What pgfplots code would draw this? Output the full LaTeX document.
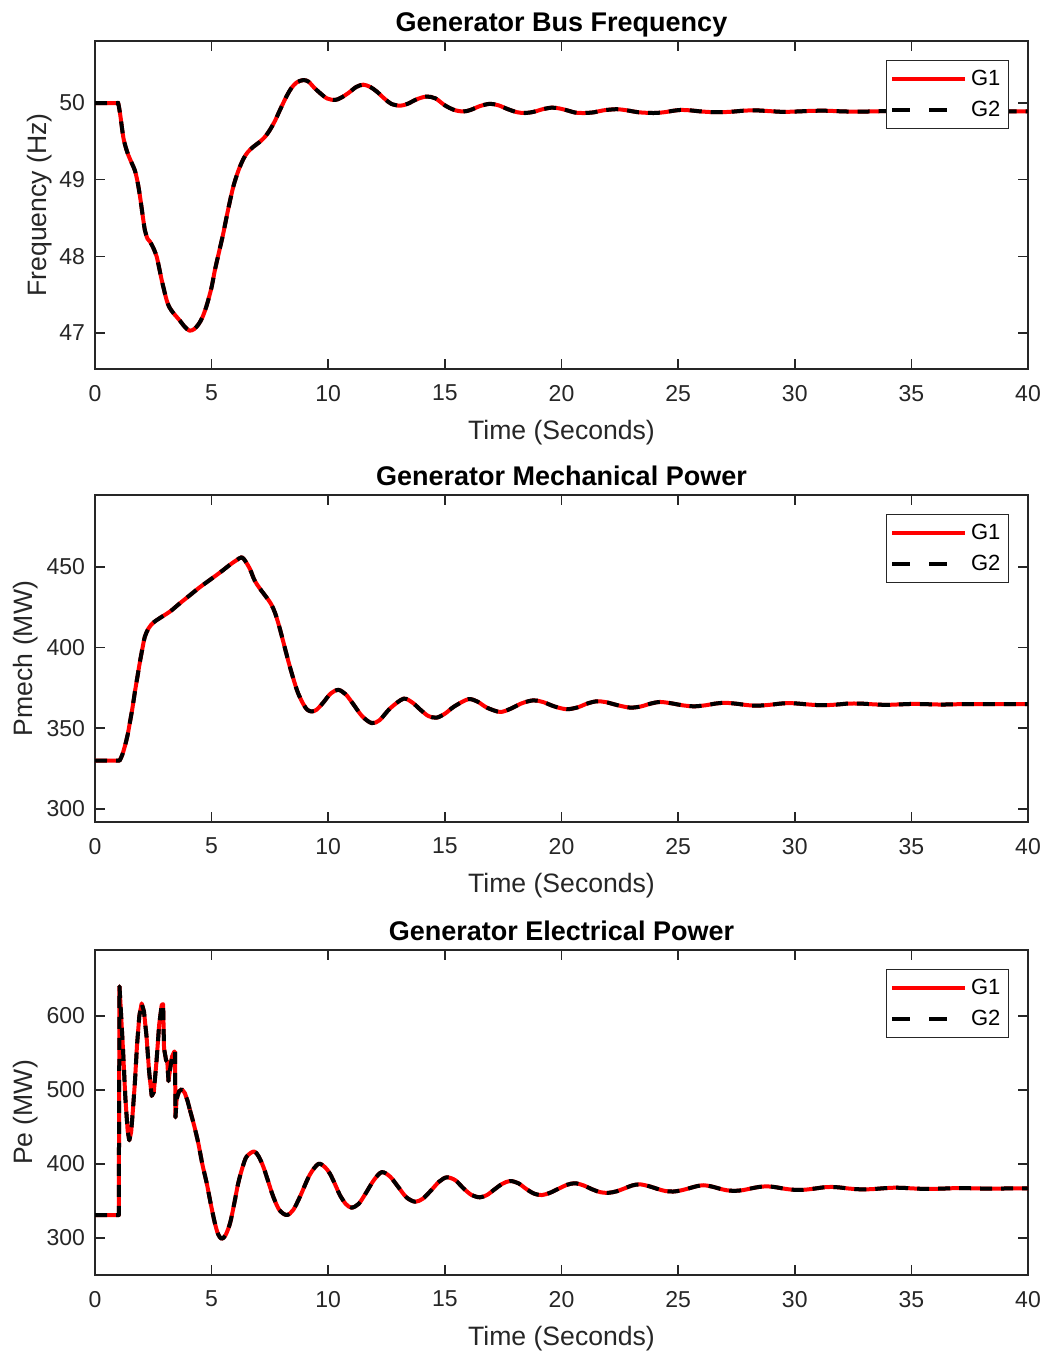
\documentclass[border=0pt]{standalone}
\usepackage{fontspec}
\setmainfont{Liberation Sans}
\usepackage{pgfplots}
\usepackage{pgfplotstable}
\pgfplotsset{compat=1.18}
\definecolor{axgray}{RGB}{38,38,38}

\pgfplotstableread{
t f
0 50
0.5 50
0.95 50
1.0 49.99
1.08 49.85
1.21 49.56
1.32 49.42
1.43 49.32
1.6 49.2
1.71 49.12
1.82 48.98
1.93 48.78
2.05 48.52
2.14 48.34
2.25 48.23
2.36 48.19
2.5 48.11
2.64 48.0
2.75 47.85
2.86 47.69
3.07 47.43
3.2 47.33
3.36 47.26
3.5 47.21
3.64 47.16
3.85 47.08
4.05 47.03
4.25 47.05
4.43 47.11
4.6 47.2
4.79 47.36
5.0 47.6
5.14 47.82
5.32 48.06
5.5 48.30
5.7 48.6
5.93 48.91
6.15 49.12
6.36 49.27
6.55 49.36
6.79 49.43
7.05 49.49
7.29 49.56
7.5 49.65
7.72 49.77
7.9 49.89
8.07 50.0
8.25 50.11
8.43 50.2
8.65 50.27
8.93 50.30
9.15 50.28
9.4 50.2
9.65 50.13
9.95 50.06
10.29 50.04
10.55 50.07
10.86 50.13
11.2 50.21
11.5 50.24
11.8 50.21
12.08 50.15
12.4 50.06
12.7 49.99
13.08 49.965
13.4 49.99
13.8 50.05
14.22 50.085
14.6 50.06
15.0 49.97
15.4 49.91
15.79 49.89
16.1 49.91
16.5 49.96
16.93 49.99
17.3 49.97
17.7 49.92
18.1 49.88
18.44 49.87
18.8 49.885
19.2 49.92
19.58 49.94
19.9 49.93
20.3 49.9
20.6 49.875
21.0 49.87
21.4 49.88
21.8 49.905
22.37 49.92
22.8 49.905
23.3 49.88
23.94 49.87
24.4 49.88
24.7 49.895
25.1 49.91
25.5 49.905
26.0 49.89
26.6 49.88
27.2 49.885
27.8 49.9
28.3 49.905
28.9 49.895
29.5 49.885
30.1 49.89
30.7 49.898
31.3 49.9
31.9 49.893
32.5 49.888
33.2 49.89
34 49.895
35 49.89
36 49.89
37 49.89
38 49.89
39 49.89
40 49.89
}\freqtab

\pgfplotstableread{
t p
0 330
0.5 330
1.0 330
1.07 330.3
1.18 334
1.29 339.4
1.4 346
1.5 353.9
1.61 363
1.71 372.5
1.82 382
1.93 391.5
2.04 400
2.14 406.9
2.3 412
2.5 415.5
2.8 418.5
3.22 422.4
3.6 427
4.07 432.5
4.5 437.5
4.93 442
5.4 447
5.79 451.4
6.05 454
6.29 456
6.45 453.5
6.65 448.5
6.8 443
6.93 439.5
7.15 435
7.36 431
7.55 427
7.72 421.5
7.9 413
8.07 403.7
8.3 391
8.5 380.9
8.7 372
8.93 365
9.1 361.5
9.29 360.4
9.5 361.5
9.79 366
10.1 371.5
10.43 373.8
10.75 371
11.07 365
11.45 357.5
11.86 353.2
12.2 355
12.65 362.3
13.22 368.3
13.6 366
13.95 361.5
14.3 357.5
14.65 356.6
15.0 359
15.4 363.5
16.0 368
16.4 366.5
16.8 362.8
17.36 360.1
17.8 362
18.3 365.5
18.79 367.3
19.2 366.3
19.7 363.5
20.22 361.8
20.7 363
21.1 365.3
21.5 366.7
21.9 366.2
22.4 364.3
22.94 362.8
23.4 363.5
23.8 365.2
24.22 366.3
24.7 365.5
25.2 364.2
25.7 363.6
26.2 364.3
26.6 365.3
27.0 365.8
27.5 365.2
28.0 364.3
28.4 364
28.9 364.5
29.4 365.3
29.8 365.6
30.3 365.1
30.8 364.5
31.3 364.3
31.8 364.7
32.3 365.3
32.8 365.3
33.3 364.9
33.9 364.5
34.5 364.8
35.1 365.1
35.7 364.9
36.3 364.7
37 364.9
38 365
39 364.9
40 364.9
}\pmechtab

\pgfplotstableread{
t p
0 331
1.02 331
1.05 640
1.1 612
1.2 555
1.3 490
1.4 445
1.47 432
1.55 443
1.63 475
1.71 510
1.8 560
1.9 600
2.0 617
2.1 606
2.21 572
2.32 525
2.43 492
2.52 497
2.64 540
2.75 588
2.86 615
2.92 616
2.96 556
3.05 540
3.1 538
3.15 512
3.22 528
3.3 545
3.4 552
3.43 552
3.45 463
3.5 488
3.6 498
3.72 501
3.85 496
3.97 485
4.07 473
}\peAtab

\pgfplotstableread{
t p
4.07 473
4.25 452
4.43 428
4.6 400
4.79 374
4.97 345
5.14 320
5.28 305
5.43 299
5.6 304
5.79 320
5.96 345
6.14 374
6.32 395
6.5 410
6.82 417
7.02 410
7.22 396
7.43 376
7.64 356
7.9 338
8.22 331
8.5 338
8.79 356
9.2 385
9.57 400
9.85 396
10.07 387
10.3 372
10.5 358
10.75 346
11.0 341
11.3 346
11.6 360
11.95 378
12.29 389
12.65 383
13.0 369
13.35 355
13.72 349
14.05 353
14.4 364
14.75 376
15.08 382
15.45 378
15.8 367
16.15 358
16.5 355
16.8 358
17.1 365
17.45 373
17.79 377
18.15 374
18.5 366
18.82 360
19.15 358
19.5 361
19.9 367
20.25 372
20.58 374
20.95 371
21.3 366
21.65 362
22.0 361
22.35 363
22.7 367
23.03 371
23.36 372.5
23.75 370
24.1 366.5
24.45 363.5
24.79 362.8
25.15 364.5
25.45 367
25.8 370
26.1 371.3
26.45 369.5
26.8 366.5
27.1 364.4
27.44 363.7
27.8 364.8
28.1 366.8
28.45 368.9
28.8 369.8
29.15 368.8
29.5 366.9
29.85 365.4
30.2 364.9
30.55 365.6
30.9 367
31.25 368.5
31.6 369
31.95 368.2
32.3 366.9
32.65 366
33.0 365.7
33.4 366.2
33.8 367.2
34.2 367.9
34.6 367.8
35.0 367.1
35.4 366.5
35.8 366.3
36.3 366.7
36.8 367.3
37.3 367.4
37.8 367
38.3 366.7
38.8 366.8
39.4 367.1
40 367
}\peBtab

\pgfplotsset{
  myaxis/.style={
    scale only axis,
    width=466.5pt,
    anchor=south west,
    xmin=0, xmax=40,
    xtick={0,5,...,40},
    tick align=inside,
    major tick length=5pt,
    axis line style={axgray, line width=0.8pt},
    every tick/.style={axgray, line width=0.8pt},
    /pgf/number format/assume math mode=true,
    tick label style={font=\fontsize{11.5}{13}\selectfont, text=axgray},
    xticklabel style={yshift=-4.5pt},
    yticklabel style={xshift=-1.5pt},
    label style={font=\fontsize{13.3}{15}\selectfont, text=axgray},
    xlabel={Time (Seconds)},
    xlabel style={at={(rel axis cs:0.5,0)}, anchor=base, yshift=-35.25pt},
    title style={font=\fontsize{13.5}{15}\selectfont\bfseries, text=black, at={(rel axis cs:0.5,1)}, anchor=base, yshift=-1.35pt},
    legend style={at={(rel axis cs:0.9796,0.942)}, anchor=north east,
      draw=axgray, line width=0.5pt, fill=white,
      font=\fontsize{11}{13}\selectfont, text=black,
      inner xsep=2pt, inner ysep=1.5pt, row sep=0pt,
      nodes={inner ysep=3.2pt}},
    legend cell align=left,
  },
  g1/.style={red, line width=2pt, line join=round},
  g2/.style={black, line width=2pt, line join=round, dash pattern=on 6pt off 4.5pt},
  g1leg/.style={legend image code/.code={\draw[red, line width=2pt] (0pt,0pt) -- (36.5pt,0pt);}},
  g2leg/.style={legend image code/.code={\draw[black, line width=2pt, dash pattern=on 9pt off 9.5pt] (0pt,0pt) -- (36.5pt,0pt);}},
}

\begin{document}
\begin{tikzpicture}
\useasboundingbox (0,0) rectangle (523pt,676.5pt);

% ---- Axis 1: frequency
\begin{axis}[myaxis, height=164pt, at={(47.5pt,492pt)},
  ymin=46.53, ymax=50.81, ytick={47,48,49,50},
  ylabel={Frequency (Hz)},
  ylabel style={at={(rel axis cs:-0.0515,0.5)}, anchor=base},
  title={Generator Bus Frequency}]
\addplot[g1, g1leg, smooth] table[x=t,y=f] {\freqtab};
\addlegendentry{G1}
\addplot[g2, g2leg, smooth] table[x=t,y=f] {\freqtab};
\addlegendentry{G2}
\end{axis}

% ---- Axis 2: mechanical power
\begin{axis}[myaxis, height=163.5pt, at={(47.5pt,265.5pt)},
  ymin=291.9, ymax=494.6, ytick={300,350,400,450},
  ylabel={Pmech (MW)},
  ylabel style={at={(rel axis cs:-0.0665,0.5)}, anchor=base},
  title={Generator Mechanical Power}]
\addplot[g1, g1leg, smooth] table[x=t,y=p] {\pmechtab};
\addlegendentry{G1}
\addplot[g2, g2leg, smooth] table[x=t,y=p] {\pmechtab};
\addlegendentry{G2}
\end{axis}

% ---- Axis 3: electrical power
\begin{axis}[myaxis, height=162.5pt, at={(47.5pt,39pt)},
  ymin=250, ymax=689.2, ytick={300,400,500,600},
  ylabel={Pe (MW)},
  ylabel style={at={(rel axis cs:-0.0665,0.5)}, anchor=base},
  title={Generator Electrical Power}]
\addplot[g1, g1leg] table[x=t,y=p] {\peAtab};
\addlegendentry{G1}
\addplot[g1, smooth, forget plot] table[x=t,y=p] {\peBtab};
\addplot[g2, g2leg] table[x=t,y=p] {\peAtab};
\addlegendentry{G2}
\addplot[g2, smooth, forget plot] table[x=t,y=p] {\peBtab};
\end{axis}
\end{tikzpicture}
\end{document}
